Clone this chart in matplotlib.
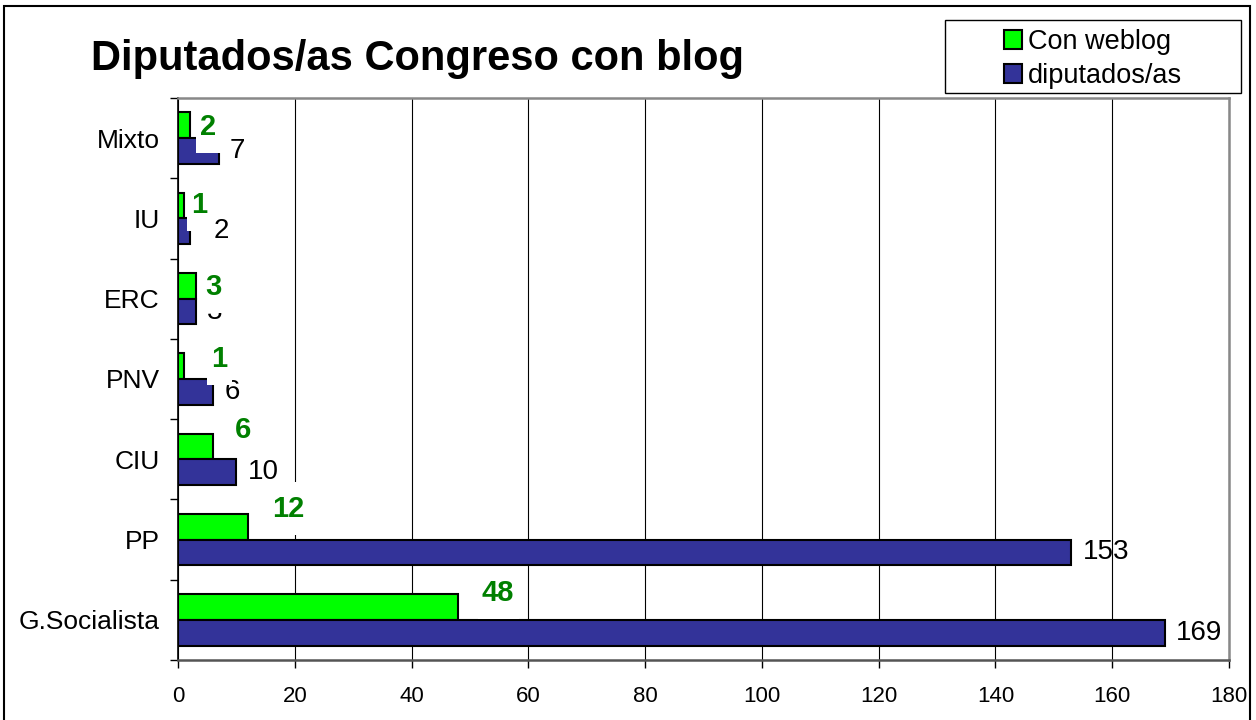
import matplotlib.pyplot as plt
from matplotlib.path import Path
from matplotlib.patches import Rectangle
import numpy as np

groups = ["G.Socialista", "PP", "CIU", "PNV", "ERC", "IU", "Mixto"]
con_weblog = [48, 12, 6, 1, 3, 1, 2]
diputados = [169, 153, 10, 6, 3, 2, 7]
x_ticks = [0, 20, 40, 60, 80, 100, 120, 140, 160, 180]

# label nudges in points (Excel shoved some labels around to dodge each other)
green_dx = [17, 17, 15.5, 20, 7, 5.5, 7.5]
green_dy = [10, 13, 11.5, 5, -0.7, 0.7, -1]
navy_dx = [8, 8, 8, 8, 8, 17, 8]

plt.rcParams['font.family'] = ['Liberation Sans', 'DejaVu Sans']


def tall_box(x0, y0, width, height, mutation_size):
    # excel label boxes: thin on the sides, tall above/below
    px = 0.15 * mutation_size
    py = 0.42 * mutation_size
    x0, x1 = x0 - px, x0 + width + px
    y0, y1 = y0 - py, y0 + height + py
    return Path([(x0, y0), (x1, y0), (x1, y1), (x0, y1), (x0, y0)], closed=True)


fig = plt.figure(figsize=(12.56, 7.2), dpi=100)
ax = fig.add_axes([178 / 1256, 60 / 720, 1051 / 1256, 562 / 720])

y = np.arange(len(groups))
h = 0.32
ax.barh(y + h / 2, con_weblog, height=h, color='#00ff00', edgecolor='black',
        linewidth=1.5, label='Con weblog')
ax.barh(y - h / 2, diputados, height=h, color='#333399', edgecolor='black',
        linewidth=1.5, label='diputados/as')

ax.set_xlim(0, 180)
ax.set_ylim(-0.5, len(groups) - 0.5)
ax.set_xticks(x_ticks)
ax.xaxis.grid(True, color='black', linewidth=0.8)
ax.set_axisbelow(True)

ax.set_yticks(y, groups)
ax.set_yticks(np.arange(-0.5, len(groups), 1), minor=True)
ax.tick_params(axis='y', which='major', length=0, pad=13, labelsize=19)
ax.tick_params(axis='y', which='minor', length=6, width=1, direction='out')
ax.tick_params(axis='x', length=6, width=1, pad=13, labelsize=16)

ax.spines['left'].set_color('black')
ax.spines['left'].set_linewidth(1.2)
ax.spines['bottom'].set_color('#555555')
ax.spines['bottom'].set_linewidth(1.8)
for s in ['top', 'right']:
    ax.spines[s].set_color('#888888')
    ax.spines[s].set_linewidth(1.8)
for s in ax.spines.values():
    s.set_zorder(5)

for i in range(len(groups)):
    ax.annotate(str(diputados[i]), (diputados[i], y[i] - h / 2),
                xytext=(navy_dx[i], 0), textcoords='offset points',
                ha='left', va='center', fontsize=20, zorder=3)
for i in range(len(groups)):
    ax.annotate(str(con_weblog[i]), (con_weblog[i], y[i] + h / 2),
                xytext=(green_dx[i], green_dy[i]), textcoords='offset points',
                ha='left', va='center', fontsize=21, fontweight='bold',
                color='#008000', zorder=4,
                bbox=dict(boxstyle=tall_box, fc='white', ec='none'))

# legend box
fig.add_artist(Rectangle((945 / 1256, 1 - 93 / 720), 296 / 1256, 73 / 720,
                         fc='white', ec='black', lw=1, transform=fig.transFigure))
handles, labels = ax.get_legend_handles_labels()
fig.legend(handles, labels, loc='center',
           bbox_to_anchor=((945 + 1241) / 2 / 1256, 1 - 59 / 720),
           frameon=False, fontsize=19.5, handlelength=0.67, handleheight=0.67,
           handletextpad=0.2, labelspacing=0.3, borderpad=0)

fig.text(91 / 1256, 1 - 70 / 720, 'Diputados/as Congreso con blog',
         fontsize=30, fontweight='bold', ha='left', va='baseline')

# outer frame
fig.add_artist(Rectangle((4 / 1256, -0.01), 1246 / 1256, 1.01 - 6 / 720,
                         fill=False, ec='black', lw=1.5, transform=fig.transFigure))

fig.savefig('out.png', dpi=100)
